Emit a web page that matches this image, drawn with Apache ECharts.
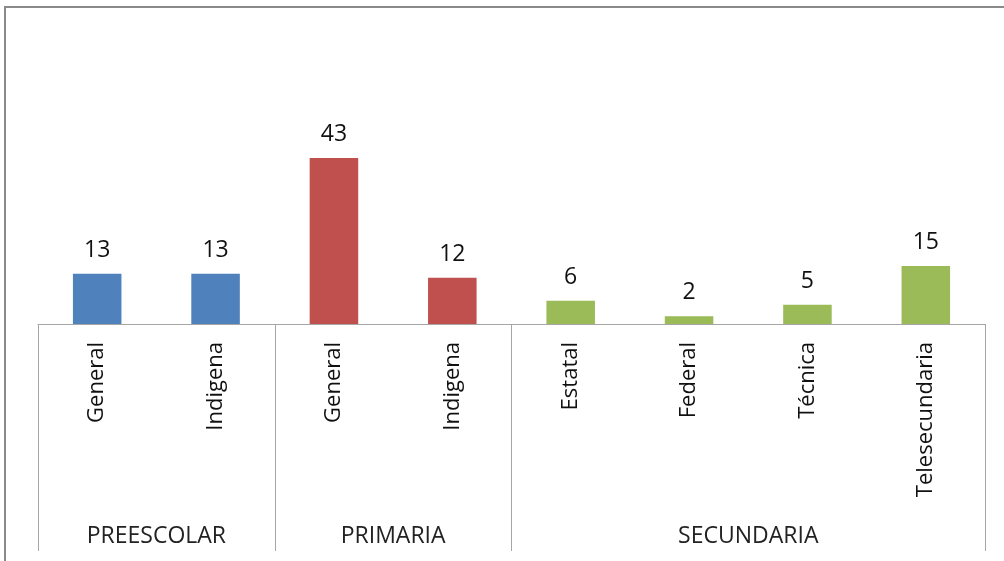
<!DOCTYPE html>
<html>
<head>
<meta charset="utf-8">
<script src="https://cdn.jsdelivr.net/npm/echarts@6/dist/echarts.min.js"></script>
<style>
    html, body { margin: 0; padding: 0; background: #fff; }
    #chart { position: absolute; left: 0; top: 0; width: 1004px; height: 561px; }
    #frame { position: absolute; left: 4px; top: 6px; width: 1010px; height: 570px;
             border-left: 2px solid #8a8a8a; border-top: 2px solid #8a8a8a; }
</style>
</head>
<body>
<div id="frame"></div>
<div id="chart"></div>
<script>
var categories = ['General', 'Indigena', 'General', 'Indigena', 'Estatal', 'Federal', 'Técnica', 'Telesecundaria'];
var values = [13, 13, 43, 12, 6, 2, 5, 15];
var groupOf = [0, 0, 1, 1, 2, 2, 2, 2];
// group labels placed on category boundaries (0..8)
var groupLabels = ['', 'PREESCOLAR', '', 'PRIMARIA', '', '', 'SECUNDARIA', '', ''];
var groupEdges = [0, 2, 4, 8];

var colorList = ['#4f81bd', '#c0504d', '#9bbb59'];
var font = '"Open Sans", "Noto Sans", sans-serif';

var chart = echarts.init(document.getElementById('chart'));
var option = {
    animation: false,
    grid: { left: 38, right: 19, top: 131, bottom: 237 },
    xAxis: [
        {
            type: 'category',
            data: categories,
            axisLine: { lineStyle: { color: '#a6a6a6', width: 1 } },
            axisTick: { show: false },
            axisLabel: {
                interval: 0,
                rotate: 90,
                margin: 18,
                fontSize: 22,
                fontFamily: font,
                color: '#111'
            }
        },
        {
            type: 'category',
            position: 'bottom',
            boundaryGap: false,
            data: groupLabels,
            axisLine: { show: false },
            axisTick: {
                show: true,
                length: 227,
                interval: function (idx) { return groupEdges.indexOf(idx) >= 0; },
                lineStyle: { color: '#a6a6a6', width: 1 }
            },
            axisLabel: {
                interval: 0,
                margin: 201,
                fontSize: 23,
                fontFamily: font,
                color: '#222'
            }
        }
    ],
    yAxis: {
        type: 'value',
        min: 0,
        max: 50,
        show: false,
        splitLine: { show: false }
    },
    series: [
        {
            type: 'bar',
            xAxisIndex: 0,
            barWidth: '41%',
            data: values,
            itemStyle: {
                color: function (params) {
                    return colorList[groupOf[params.dataIndex]];
                }
            },
            label: {
                show: true,
                position: 'top',
                distance: 12,
                fontSize: 23,
                fontFamily: font,
                color: '#111'
            }
        }
    ]
};
chart.setOption(option);
</script>
</body>
</html>
